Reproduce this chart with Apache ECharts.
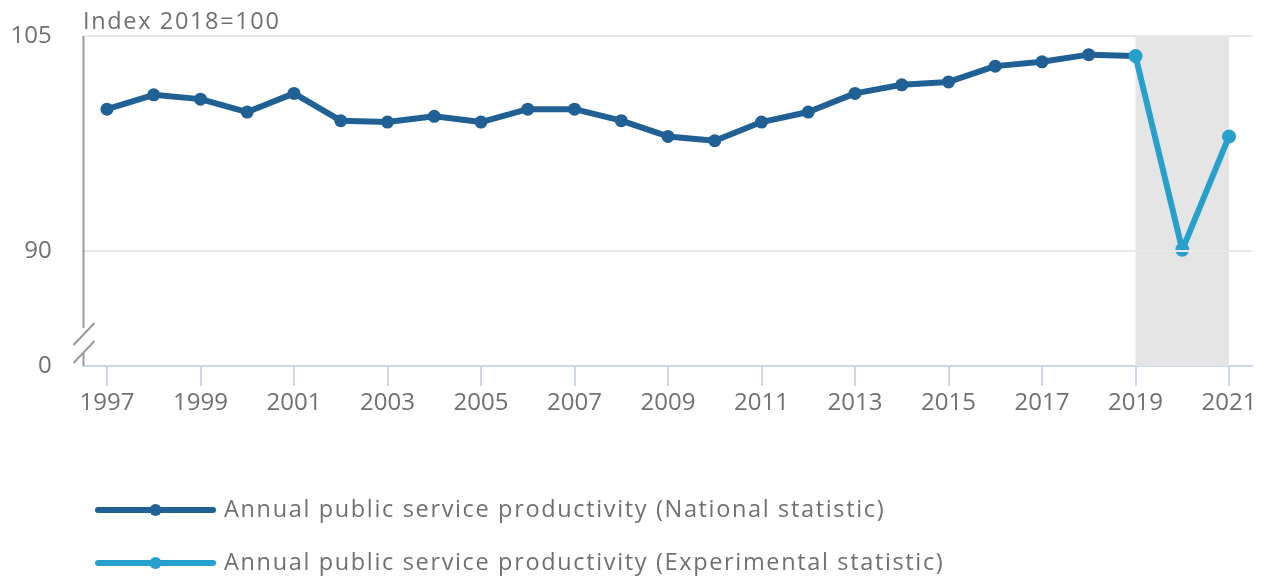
<!DOCTYPE html>
<html><head><meta charset="utf-8">
<script src="https://cdn.jsdelivr.net/npm/echarts@6/dist/echarts.min.js"></script>
<style>html,body{margin:0;padding:0;background:#fff}#c{width:1263px;height:580px}</style>
</head><body><div id="c"></div>
<script>
const years = ['1997','1998','1999','2000','2001','2002','2003','2004','2005','2006','2007','2008','2009','2010','2011','2012','2013','2014','2015','2016','2017','2018','2019','2020','2021'];
const nationalValues = [99.9,100.9,100.6,99.7,101.0,99.1,99.0,99.4,99.0,99.9,99.9,99.1,98.0,97.7,99.0,99.7,101.0,101.6,101.8,102.9,103.2,103.7,103.6,'-','-'];
const experimentalValues = ['-','-','-','-','-','-','-','-','-','-','-','-','-','-','-','-','-','-','-','-','-','-',103.6,90.1,98.0];
const yAxisMin = 82, yAxisMax = 105;
const yTickValues = [82, 90, 105];
const yTickLabels = ['0', '90', '105'];
const gridLineValues = [90, 105];
const shadeRange = ['2019', '2021'];
const seriesNames = ['Annual public service productivity (National statistic)', 'Annual public service productivity (Experimental statistic)'];
const unitLabel = 'Index 2018=100';

const FONT = '"Open Sans", "Noto Sans", sans-serif';
const TXT = '#707070';
const DARK = '#206095', LIGHT = '#27a0cc';
const SPACED_SIZE = 23.5; // title & legend text are drawn slightly letter-spaced

// letter spacing for the title/legend text size only
(function () {
  const P = CanvasRenderingContext2D.prototype;
  const orig = P.fillText;
  P.fillText = function (t, x, y, m) {
    if ('letterSpacing' in this) this.letterSpacing = /23\.5px/.test(this.font) ? '1.65px' : '0px';
    return m === undefined ? orig.call(this, t, x, y) : orig.call(this, t, x, y, m);
  };
})();

const chart = echarts.init(document.getElementById('c'), null, {renderer: 'canvas'});
const blanks = years.map(() => '-');
const legendText = {fontSize: SPACED_SIZE, color: TXT, fontFamily: FONT, lineHeight: 30, padding: [0, 0, 0, 6]};
const legendBase = {orient: 'vertical', left: 95, padding: 0, itemWidth: 115, itemHeight: 15,
  lineStyle: {width: 6}, textStyle: legendText, selectedMode: false};
chart.setOption({
  animation: false,
  backgroundColor: '#fff',
  textStyle: {fontFamily: FONT},
  title: {text: unitLabel, left: 83, top: 10, padding: 0,
    textStyle: {fontSize: SPACED_SIZE, fontWeight: 'normal', color: TXT, fontFamily: FONT}},
  grid: {left: 83.6, right: 10.6, top: 36, bottom: 214, containLabel: false},
  xAxis: {
    type: 'category', data: years, boundaryGap: true,
    axisLine: {show: true, lineStyle: {color: '#ccd7eb', width: 2}},
    axisTick: {show: true, interval: 1, alignWithLabel: true, length: 20, lineStyle: {color: '#ccd7eb', width: 2}},
    axisLabel: {interval: 1, fontSize: 24, color: TXT, margin: 25, fontFamily: FONT},
    splitLine: {show: false}
  },
  yAxis: {
    type: 'value', min: yAxisMin, max: yAxisMax, interval: 1,
    axisLine: {show: false}, axisTick: {show: false}, splitLine: {show: false},
    axisLabel: {fontSize: 24, color: TXT, margin: 32, fontFamily: FONT, padding: [5, 0, 0, 0],
      formatter: v => { const i = yTickValues.indexOf(v); return i >= 0 ? yTickLabels[i] : ''; }}
  },
  legend: [
    Object.assign({}, legendBase, {top: 495, data: [seriesNames[0]]}),
    Object.assign({}, legendBase, {top: 548, data: [seriesNames[1]]})
  ],
  series: [
    {type: 'line', name: 'grid', data: blanks, z: 1, silent: true, symbol: 'none',
     markLine: {silent: true, symbol: 'none', label: {show: false}, animation: false,
       lineStyle: {color: '#e8e8e8', width: 2, type: 'solid'},
       data: gridLineValues.map(v => ({yAxis: v}))}},
    {type: 'line', name: 'shade', data: blanks, z: 1.5, silent: true, symbol: 'none',
     markArea: {silent: true, itemStyle: {color: '#e5e5e5'},
       data: [[{xAxis: shadeRange[0]}, {xAxis: shadeRange[1]}]]}},
    {type: 'line', name: seriesNames[0], data: nationalValues, z: 2,
     symbol: 'circle', symbolSize: 13, showAllSymbol: true,
     lineStyle: {color: DARK, width: 6, join: 'round', cap: 'round'}, itemStyle: {color: DARK}},
    {type: 'line', name: seriesNames[1], data: experimentalValues, z: 3,
     symbol: 'circle', symbolSize: 14, showAllSymbol: true,
     lineStyle: {color: LIGHT, width: 6, join: 'round', cap: 'round'}, itemStyle: {color: LIGHT}}
  ]
});

// Y axis line with break decoration, positioned from the axis scales
const p0 = chart.convertToPixel({xAxisIndex: 0}, years[0]);
const p1 = chart.convertToPixel({xAxisIndex: 0}, years[1]);
const left = Math.round(p0 - (p1 - p0) / 2) - 0.5;
const yTop = chart.convertToPixel({yAxisIndex: 0}, yAxisMax);
const yBot = chart.convertToPixel({yAxisIndex: 0}, yAxisMin);
const st = {stroke: '#999', lineWidth: 2};
chart.setOption({graphic: [
  {type: 'line', shape: {x1: left, y1: yTop, x2: left, y2: yBot - 38}, style: st, z: 5},
  {type: 'line', shape: {x1: left - 10, y1: yBot - 21, x2: left + 11, y2: yBot - 43}, style: st, z: 5},
  {type: 'line', shape: {x1: left - 10, y1: yBot - 3, x2: left + 11, y2: yBot - 25}, style: st, z: 5},
  {type: 'line', shape: {x1: left, y1: yBot - 14, x2: left, y2: yBot}, style: st, z: 5}
]});
</script>
</body></html>
